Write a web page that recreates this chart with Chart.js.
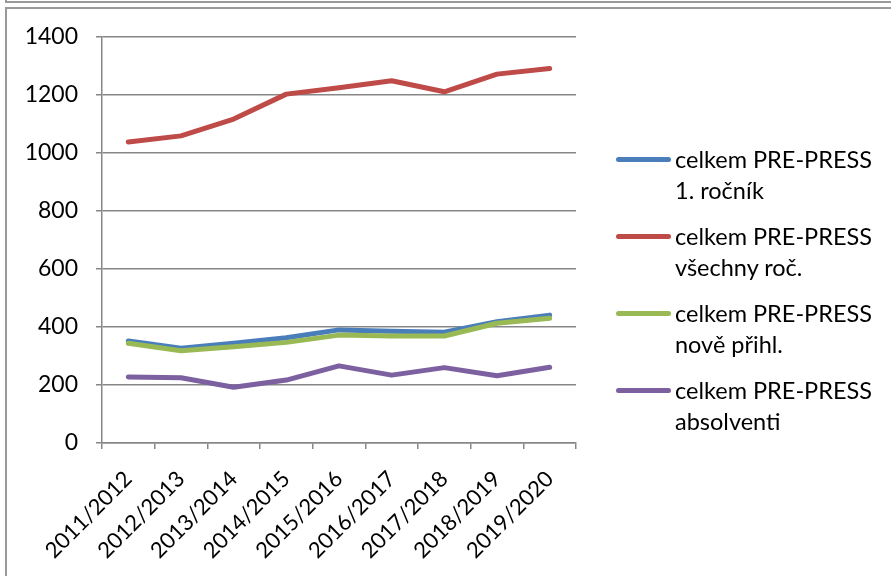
<!DOCTYPE html>
<html>
<head>
<meta charset="utf-8">
<script src="https://cdn.jsdelivr.net/npm/chart.js@4/dist/chart.umd.min.js"></script>
<style>
  html, body { margin: 0; padding: 0; background: #fff; }
  body { width: 891px; height: 576px; position: relative; overflow: hidden; font-family: Lato, "Open Sans", sans-serif; }
  .strip { position: absolute; left: 5px; top: -10px; width: 900px; height: 11px; border-left: 2px solid #9a9a9a; border-bottom: 2px solid #9a9a9a; }
  .frame { position: absolute; left: 5px; top: 7px; width: 900px; height: 600px; border-left: 2px solid #9a9a9a; border-top: 2px solid #9a9a9a; }
  #wrap { position: absolute; left: 10px; top: 10px; width: 881px; height: 566px; }
  .legend { position: absolute; left: 616px; top: 0; }
  .item { position: absolute; left: 0; width: 270px; }
  .swatch { position: absolute; left: 0; width: 55px; height: 5px; border-radius: 3px; }
  .txt { position: absolute; left: 59px; top: 0; font-size: 23.5px; line-height: 31px; color: #000; white-space: nowrap; }
</style>
</head>
<body>
<div class="strip"></div>
<div class="frame"></div>
<div id="wrap"><canvas id="c"></canvas></div>
<div class="legend" id="legend"></div>
<script>
// School years on the category axis
const years = ['2011/2012', '2012/2013', '2013/2014', '2014/2015', '2015/2016',
               '2016/2017', '2017/2018', '2018/2019', '2019/2020'];

// Student counts per series
const prvniRocnik = [352, 327, 344, 363, 390, 385, 382, 418, 441];
const vsechnyRocniky = [1038, 1059, 1117, 1203, 1225, 1249, 1211, 1272, 1291];
const novePrihlaseni = [344, 318, 332, 347, 372, 369, 369, 413, 430];
const absolventi = [228, 225, 192, 217, 266, 234, 260, 232, 261];

// Series names, each split into two legend lines
const seriesNames = [
  ['celkem PRE-PRESS', '1. ročník'],
  ['celkem PRE-PRESS', 'všechny roč.'],
  ['celkem PRE-PRESS', 'nově přihl.'],
  ['celkem PRE-PRESS', 'absolventi']
];
const seriesColors = ['#4a7ebb', '#be4b48', '#98b954', '#7d60a0'];
const seriesValues = [prvniRocnik, vsechnyRocniky, novePrihlaseni, absolventi];

// Value axis ticks
const yMin = 0, yMax = 1400, yStep = 200;

const gridColor = '#878787';

const datasets = seriesValues.map((vals, i) => ({
  label: seriesNames[i].join(' '),
  data: vals,
  borderColor: seriesColors[i],
  backgroundColor: seriesColors[i],
  borderWidth: 5,
  tension: 0,
  pointRadius: 0,
  pointHoverRadius: 0,
  borderCapStyle: 'round',
  borderJoinStyle: 'round',
  fill: false,
  order: seriesValues.length - i
}));

new Chart(document.getElementById('c'), {
  type: 'line',
  data: { labels: years, datasets },
  options: {
    responsive: true,
    maintainAspectRatio: false,
    animation: false,
    events: [],
    layout: { padding: { top: 27, right: 315, left: 0, bottom: 0 } },
    plugins: { legend: { display: false }, tooltip: { enabled: false } },
    scales: {
      x: {
        offset: true,
        grid: { display: true, offset: true, drawOnChartArea: false, drawTicks: true, tickLength: 6, color: gridColor, lineWidth: 1.5 },
        border: { display: true, color: gridColor, width: 1.5 },
        ticks: { color: '#000', font: { family: 'Lato', size: 22 }, minRotation: 45, maxRotation: 45, padding: 17, autoSkip: false },
        afterFit: (s) => { s.height = 133; s.paddingLeft = 0; s.paddingRight = 0; }
      },
      y: {
        min: yMin, max: yMax,
        grid: { color: gridColor, lineWidth: 1.5, tickLength: 6, drawTicks: true },
        border: { display: true, color: gridColor, width: 1.5 },
        ticks: { stepSize: yStep, color: '#000', font: { family: 'Lato', size: 23 }, padding: 18,
                 callback: (v) => String(v) },
        afterFit: (s) => { s.width = 92; s.paddingTop = 0; s.paddingBottom = 0; }
      }
    }
  }
});

// Legend to the right of the plot: coloured line plus two-line name
const legend = document.getElementById('legend');
const rowTops = [144, 221, 298, 375];
seriesNames.forEach((lines, i) => {
  const item = document.createElement('div');
  item.className = 'item';
  item.style.top = rowTops[i] + 'px';
  const sw = document.createElement('div');
  sw.className = 'swatch';
  sw.style.background = seriesColors[i];
  sw.style.top = '13px';
  const tx = document.createElement('div');
  tx.className = 'txt';
  tx.innerHTML = lines.join('<br>');
  item.appendChild(sw);
  item.appendChild(tx);
  legend.appendChild(item);
});
</script>
</body>
</html>
